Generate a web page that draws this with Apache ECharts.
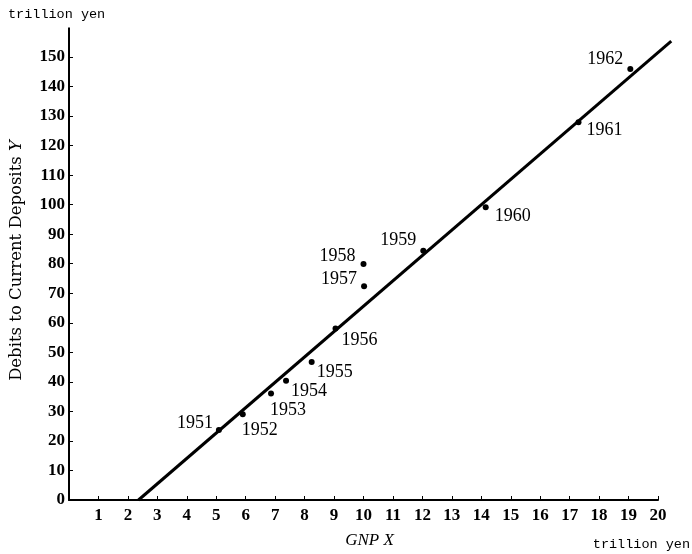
<!DOCTYPE html>
<html>
<head>
<meta charset="utf-8">
<script src="https://cdn.jsdelivr.net/npm/echarts@6/dist/echarts.min.js"></script>
<style>html,body{margin:0;padding:0;background:#fff}#c{width:692px;height:554px}</style>
</head>
<body>
<div id="c"></div>
<script>
// Data (GNP X in trillion yen, debits to current deposits Y in trillion yen)
var years = ['1951','1952','1953','1954','1955','1956','1957','1958','1959','1960','1961','1962'];
var gnpX = [5.09, 5.90, 6.86, 7.37, 8.24, 9.05, 10.02, 10.00, 12.03, 14.15, 17.30, 19.06];
var debitsY = [23.7, 29.0, 36.1, 40.4, 46.7, 58.1, 72.4, 79.9, 84.4, 99.1, 127.9, 145.9];
// Fitted line end points
var lineX = [2.36, 20.45];
var lineY = [0, 155.4];
var xTicks = [0,1,2,3,4,5,6,7,8,9,10,11,12,13,14,15,16,17,18,19,20];
var yTicks = [0,10,20,30,40,50,60,70,80,90,100,110,120,130,140,150];
var yAxisTop = 160;

// Label placement (style, not data): [side, dx, dy] relative to the point
var labelPlace = {
  '1951': ['L', -6, -7], '1952': ['R', -1, 16], '1953': ['R', -1, 17],
  '1954': ['R', 5, 11], '1955': ['R', 5, 10], '1956': ['R', 6, 12],
  '1957': ['L', -7, -7], '1958': ['L', -8, -8], '1959': ['L', -7, -10],
  '1960': ['R', 9, 9], '1961': ['R', 8, 8], '1962': ['L', -7, -10]
};

var chart = echarts.init(document.getElementById('c'));
var serif = 'Liberation Serif';
var pts = years.map(function (y, i) {
  var p = labelPlace[y];
  return {
    value: [gnpX[i], debitsY[i]],
    name: y,
    label: {
      show: true,
      formatter: y,
      position: [p[1] + 3, p[2] + 3],
      align: p[0] === 'L' ? 'right' : 'left',
      verticalAlign: 'middle',
      fontFamily: serif,
      fontSize: 18,
      color: '#000'
    }
  };
});

function segment(x0, y0, x1, y1, w) {
  return function (params, api) {
    var a = api.coord([x0, y0]);
    var b = api.coord([x1, y1]);
    return {
      type: 'line',
      shape: { x1: a[0], y1: a[1], x2: b[0], y2: b[1] },
      style: { stroke: '#000', lineWidth: w, lineCap: 'butt' }
    };
  };
}

chart.setOption({
  animation: false,
  backgroundColor: '#fff',
  grid: { left: 66, right: 34, top: 57, bottom: 54 },
  xAxis: {
    type: 'value', min: xTicks[0], max: xTicks[xTicks.length - 1], interval: 1,
    splitLine: { show: false },
    axisLine: { show: true, lineStyle: { color: '#000', width: 2 } },
    axisTick: { show: true, inside: true, length: 4, lineStyle: { color: '#000', width: 1 } },
    axisLabel: {
      color: '#000', fontFamily: serif, fontWeight: 'bold', fontSize: 17, margin: 7,
      formatter: function (v) { return v === 0 ? '' : String(v); }
    },
    name: 'GNP X', nameLocation: 'middle', nameGap: 32,
    nameTextStyle: { fontFamily: serif, fontStyle: 'italic', fontSize: 17, color: '#000', padding: [0, 0, 0, 12] }
  },
  yAxis: {
    type: 'value', min: yTicks[0], max: yTicks[yTicks.length - 1], interval: 10,
    splitLine: { show: false },
    axisLine: { show: true, lineStyle: { color: '#000', width: 2 } },
    axisTick: { show: true, inside: true, length: 4, lineStyle: { color: '#000', width: 1 } },
    axisLabel: { color: '#000', fontFamily: serif, fontWeight: 'bold', fontSize: 17, margin: 4 },
    name: '{a|Debits to Current Deposits }{b|Y}', nameLocation: 'middle', nameGap: 44, nameRotate: 90,
    nameTextStyle: {
      color: '#000', padding: [0, 0, 0, 36],
      rich: {
        a: { fontFamily: 'DejaVu Serif', fontSize: 16.5, color: '#000' },
        b: { fontFamily: 'DejaVu Serif', fontSize: 16.5, fontStyle: 'italic', color: '#000' }
      }
    }
  },
  graphic: [
    { type: 'text', left: 8, top: 7, style: { text: 'trillion yen', font: '13.5px "Liberation Mono"', fill: '#000' } },
    { type: 'text', right: 2, top: 537, style: { text: 'trillion yen', font: '13.5px "Liberation Mono"', fill: '#000' } }
  ],
  series: [
    {
      type: 'custom', name: 'axis extension', data: [[0, 0]], clip: false, silent: true, z: 1,
      renderItem: segment(0, yTicks[yTicks.length - 1], 0, yAxisTop, 2)
    },
    {
      type: 'custom', name: 'fit', data: [[lineX[0], lineY[0]]], clip: false, silent: true, z: 2,
      renderItem: segment(lineX[0], lineY[0], lineX[1], lineY[1], 3)
    },
    {
      type: 'scatter', name: 'years', data: pts, symbol: 'circle', symbolSize: 6,
      itemStyle: { color: '#000', opacity: 1 }, emphasis: { disabled: true }, z: 3
    }
  ]
});
</script>
</body>
</html>
